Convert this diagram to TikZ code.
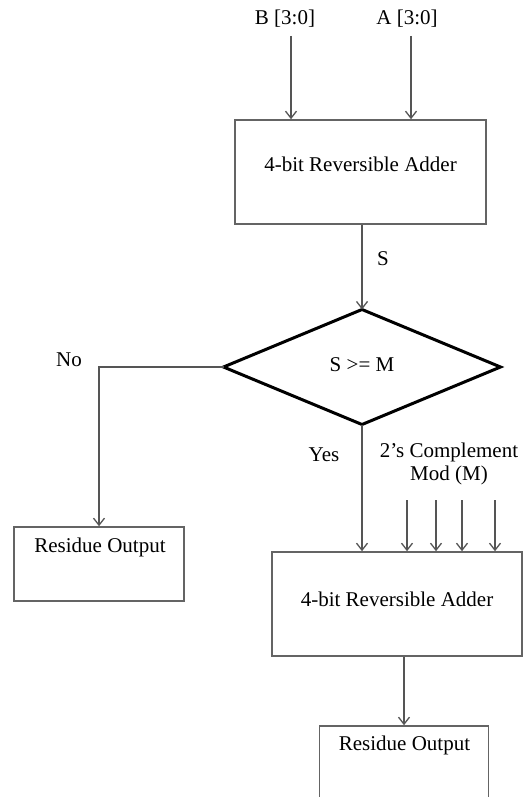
\documentclass[tikz,border=0pt]{standalone}
\usepackage{fontspec}
\setmainfont{Liberation Serif}
\usetikzlibrary{shapes.geometric,arrows.meta}
\definecolor{flline}{RGB}{85,85,85}
\definecolor{flbox}{RGB}{100,100,100}

\tikzset{
  fltext/.style={font=\fontsize{21}{23}\selectfont, inner sep=0pt},
  flbox/.style={draw=flbox, line width=1.6pt, inner sep=0pt},
  flarrow/.style={draw=flline, line width=1.3pt, -{Straight Barb[length=7pt,width=11pt]}},
  flline/.style={draw=flline, line width=1.3pt}
}

\begin{document}
\begin{tikzpicture}[x=1pt,y=-1pt]
\useasboundingbox (0,0) rectangle (523,797);
\clip (0,0) rectangle (523,797);

% Input labels
\node[fltext] (blabel) at (285,19) {B [3:0]};
\node[fltext] (alabel) at (407,19) {A [3:0]};
\coordinate (bstart) at (291,36);
\coordinate (astart) at (411,36);

% First adder
\node[flbox, minimum width=251pt, minimum height=104pt] (adder1) at (360.5,172) {};
\node[fltext] (adder1txt) at (360.5,164) {4-bit Reversible Adder};

\draw[flarrow] (bstart) -- (bstart |- adder1.north);
\draw[flarrow] (astart) -- (astart |- adder1.north);

% Decision
\node[diamond, draw=black, line width=3pt, inner sep=0pt, outer sep=0pt,
      minimum width=277pt, minimum height=115pt] (test) at (362,367) {};
\node[fltext] (testtxt) at (362,365) {S >= M};

\draw[flarrow] (adder1.south -| test.north) -- (test.north);
\node[fltext] (slabel) at (383,259) {S};

% No branch
\node[flbox, minimum width=170pt, minimum height=74pt] (res1) at (99,564) {};
\node[fltext] (res1txt) at (100,547) {Residue Output};
\draw[flarrow] (test.west) -| (res1.north);
\node[fltext] (nolabel) at (69,360) {No};

% Yes branch
\node[flbox, minimum width=250pt, minimum height=104pt] (adder2) at (397,604) {};
\node[fltext] (adder2txt) at (397,599) {4-bit Reversible Adder};
\draw[flarrow] (test.south) -- (test.south |- adder2.north);
\node[fltext] (yeslabel) at (324,455) {Yes};

% Constant input
\node[fltext, align=center] (mlabel) at (449,464) {2’s Complement\\Mod (M)};
\foreach \x [count=\i] in {407,436,462,495} {
  \coordinate (m\i) at (\x,500);
  \draw[flarrow] (m\i) -- (m\i |- adder2.north);
}

% Output
\node[flbox, minimum width=169pt, minimum height=100pt] (res2) at (404,776) {};
\node[fltext] (res2txt) at (404.5,745) {Residue Output};
\draw[flarrow] (res2.north |- adder2.south) -- (res2.north);

\end{tikzpicture}
\end{document}
